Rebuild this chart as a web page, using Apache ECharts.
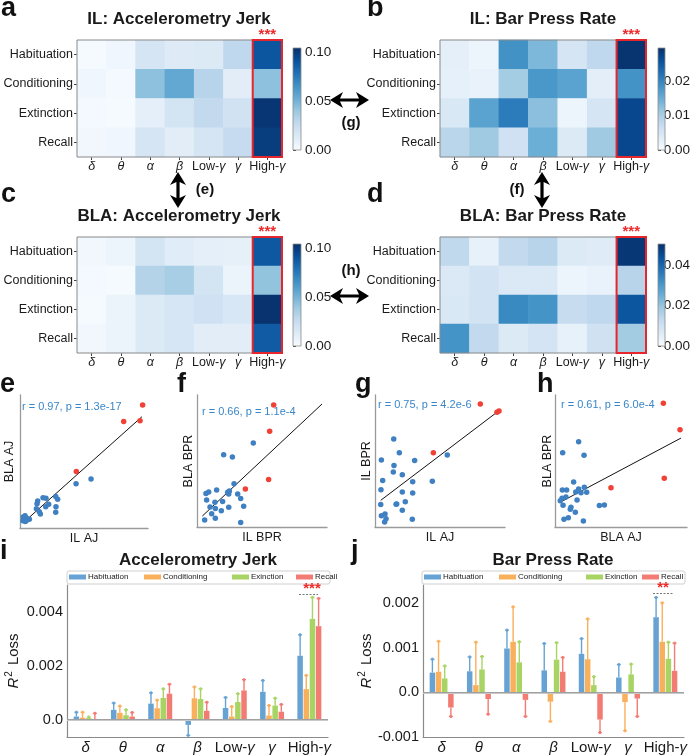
<!DOCTYPE html>
<html><head><meta charset="utf-8">
<script src="https://cdn.jsdelivr.net/npm/echarts@6/dist/echarts.min.js"></script>
<style>html,body{margin:0;padding:0;background:#fff}#c{width:690px;height:755px}</style>
</head><body><div id="c"></div>
<script>
// ---------------- DATA ----------------
const bands = ['δ','θ','α','β','Low-γ','γ','High-γ'];
const stages = ['Habituation','Conditioning','Extinction','Recall'];
const legendNames = ['Habituation','Conditioning','Exinction','Recall'];

// heatmaps (rows = stages, cols = bands)
const ilAJ = [
 [0.001,0.004,0.018,0.013,0.014,0.028,0.089],
 [0.004,0.002,0.043,0.055,0.031,0.011,0.043],
 [0.002,0.001,0.010,0.019,0.027,0.020,0.102],
 [0.003,0.004,0.018,0.011,0.018,0.026,0.099]];
const ilBPR = [
 [0.0027,0.0015,0.0185,0.0135,0.0050,0.0080,0.0292],
 [0.0025,0.0020,0.0105,0.0178,0.0163,0.0030,0.0184],
 [0.0045,0.0163,0.0210,0.0125,0.0015,0.0050,0.0270],
 [0.0085,0.0110,0.0060,0.0148,0.0040,0.0110,0.0270]];
const blaAJ = [
 [0.003,0.005,0.019,0.012,0.010,0.009,0.088],
 [0.002,0.001,0.032,0.036,0.019,0.006,0.042],
 [0.001,0.006,0.014,0.017,0.021,0.016,0.103],
 [0.003,0.006,0.014,0.017,0.011,0.011,0.087]];
const blaBPR = [
 [0.0134,0.0040,0.0130,0.0150,0.0068,0.0060,0.0490],
 [0.0070,0.0095,0.0070,0.0070,0.0025,0.0035,0.0150],
 [0.0075,0.0095,0.0330,0.0310,0.0120,0.0135,0.0430],
 [0.0310,0.0130,0.0068,0.0090,0.0040,0.0100,0.0180]];
const cbMax = [0.104, 0.0296, 0.104, 0.0503];
const cbTicks = [[0,0.05,0.10],[0,0.01,0.02],[0,0.05,0.10],[0,0.02,0.04]];
const heatTitles = ['IL: Accelerometry Jerk','IL: Bar Press Rate','BLA: Accelerometry Jerk','BLA: Bar Press Rate'];

// scatter (values relative to each panel's range, %)
const eBlue = [[55.5,36.8],[43.8,33.3],[27.9,23.6],[29.4,21.6],[18.0,22.8],[20.3,22.3],[13.8,20.3],[13.3,18.3],[22.4,17.8],[20.1,16.0],[12.8,14.5],[15.1,12.3],[15.9,10.5],[28.1,16.0],[27.9,11.8],[3.9,9.3],[4.9,7.8],[3.1,7.0],[5.5,6.0],[7.3,6.5],[2.6,8.3],[2.3,5.5],[4.2,4.8],[3.4,8.5]];
const eRed = [[95.8,92.5],[81.0,80.0],[93.8,80.7],[44.0,42.4]];
const eFit = [[2.6,4.0],[95.3,83.7]];
const fBlue = [[43.3,63.6],[20.5,54.8],[27.2,53.0],[28.5,32.8],[15.1,28.0],[9.0,26.5],[6.9,25.3],[24.9,27.3],[24.4,25.0],[31.3,25.0],[33.6,21.5],[19.7,19.4],[13.8,18.7],[7.4,20.5],[10.0,15.2],[14.1,14.1],[18.7,12.3],[24.4,14.9],[35.9,15.7],[11.3,10.0],[14.1,6.6],[5.9,5.3],[33.6,3.5],[23.6,26.3]];
const fRed = [[59.0,92.4],[55.9,72.5],[55.1,35.9],[37.2,28.8]];
const fFit = [[4.1,8.3],[96.2,93.2]];
const gBlue = [[14.4,66.7],[18.7,56.3],[4.9,50.8],[30.5,50.3],[55.6,54.5],[14.6,46.5],[14.1,41.7],[21.0,39.6],[5.9,35.2],[29.0,34.3],[44.1,34.6],[4.6,28.3],[21.0,26.5],[29.0,25.8],[23.3,19.2],[16.7,17.4],[4.4,17.0],[21.0,12.6],[4.9,8.6],[7.7,9.8],[8.5,6.3],[7.4,3.8],[28.7,5.8],[16.2,17.2]];
const gRed = [[81.0,93.2],[95.4,87.9],[93.8,86.9],[44.9,56.3]];
const gFit = [[4.4,20.2],[94.4,87.4]];
const hBlue = [[17.9,64.6],[5.8,56.3],[22.0,54.3],[14.1,34.1],[5.6,28.0],[8.8,28.0],[17.9,28.8],[22.2,30.1],[24.0,26.3],[15.7,26.5],[19.7,26.0],[8.3,22.7],[5.3,21.7],[4.0,19.9],[6.1,16.4],[16.7,20.5],[12.1,14.9],[11.6,13.4],[15.4,11.1],[33.6,16.2],[37.4,16.7],[10.1,7.1],[6.8,5.8],[21.5,4.5]];
const hRed = [[82.1,93.7],[94.7,73.7],[82.8,36.9],[42.4,29.8]];
const hFit = [[3.8,18.7],[95.5,67.4]];
const scatterStats = ['r = 0.97, p = 1.3e-17','r = 0.66, p = 1.1e-4','r = 0.75, p = 4.2e-6','r = 0.61, p = 6.0e-4'];
const scatterXNames = ['IL AJ','IL BPR','IL AJ','BLA AJ'];
const scatterYNames = ['BLA AJ','BLA BPR','IL BPR','BLA BPR'];

// bar charts: R2 loss per stage (values, error bar lengths)
const ajHab = [0.00011,0.00036,0.00059,-0.00020,0.00043,0.00103,0.00237];
const ajHabErr = [0.00016,0.00025,0.00040,0.00039,0.00039,0.00042,0.00078];
const ajCon = [0.00007,0.00025,0.00042,0.00079,0.00011,0.00015,0.00113];
const ajConErr = [0.00020,0.00025,0.00030,0.00042,0.00037,0.00037,0.00051];
const ajExt = [0.00005,0.00016,0.00080,0.00076,0.00065,0.00052,0.00374];
const ajExtErr = [0.00004,0.00020,0.00034,0.00038,0.00031,0.00027,0.00080];
const ajRec = [0.00001,0.00011,0.00096,0.00032,0.00108,0.00029,0.00347];
const ajRecErr = [0.00022,0.00015,0.00035,0.00032,0.00040,0.00027,0.00103];
const bpHab = [0.00044,0.00047,0.00098,0.00049,0.00086,0.00033,0.00168];
const bpHabErr = [0.00030,0.00032,0.00041,0.00060,0.00034,0.00029,0.00044];
const bpCon = [0.00046,0.00016,0.00113,-0.00021,0.00074,-0.00022,0.00113];
const bpConErr = [0.00068,0.00096,0.00078,0.00044,0.00090,0.00064,0.00087];
const bpExt = [0.00031,0.00051,0.00067,0.00073,0.00016,0.00040,0.00075];
const bpExtErr = [0.00028,0.00029,0.00046,0.00038,0.00019,0.00023,0.00037];
const bpRec = [-0.00034,-0.00015,-0.00017,0.00046,-0.00061,-0.00014,0.00048];
const bpRecErr = [0.00020,0.00034,0.00037,0.00032,0.00029,0.00040,0.00062];
const ajTicks = [0, 0.002, 0.004];
const bpTicks = [-0.001, 0, 0.001, 0.002];

// ---------------- STYLE / LAYOUT ----------------
const FF = '"Liberation Sans", Arial, sans-serif';
const BLUES = ['#f7fbff','#deebf7','#c6dbef','#9ecae1','#6baed6','#4292c6','#2171b5','#08519c','#08306b'];
const STAGE_COLORS = ['#66a3d4','#f9b05c','#a8d463','#f27c74'];
const DOT_BLUE = '#3f80c2', DOT_RED = '#ef4136';
const TXT = '#1a1a1a';

const heatBoxes = [[77,40,205,117],[440,40,206,117],[77,237,205,116],[440,237,206,116]];
const cbBoxes = [[293,48,8,102],[658,48,7,102],[293,244,8,102],[658,244,7,102]];
const scBoxes = [[20,395,128,133],[197,395,130,132],[375,395,130,132],[555,395,132,132]];
const scYGap = [4,2,2,1];
const barBoxes = [[67,585,261,153],[423,585,261,154]];

function greek(v){ return v.replace(/([δθαβγ])/g,'{g|$1}'); }

const option = {animation:false, textStyle:{fontFamily:FF}, grid:[], xAxis:[], yAxis:[], series:[], visualMap:[], legend:[], graphic:[]};
const G = option.graphic;
function addGrid(b){ option.grid.push({left:b[0], top:b[1], width:b[2], height:b[3], containLabel:false}); return option.grid.length-1; }
function text(str,x,y,font,fill,align,valign){ G.push({type:'text', x:x, y:y, z:100, silent:true, style:{text:str, font:font, fill:fill||TXT, align:align||'center', verticalAlign:valign||'middle'}}); }
function rect(x,y,w,h,stroke,lw){ G.push({type:'rect', z:100, silent:true, shape:{x:x,y:y,width:w,height:h}, style:{fill:'none', stroke:stroke, lineWidth:lw}}); }

// ---------------- HEATMAPS ----------------
const heatData = [ilAJ, ilBPR, blaAJ, blaBPR];
heatData.forEach((mat,k)=>{
  const g = addGrid(heatBoxes[k]);
  option.xAxis.push({type:'category', gridIndex:g, data:bands, axisLine:{show:false},
    axisTick:{show:true, alignWithLabel:true, length:3, lineStyle:{color:'#444'}},
    axisLabel:{interval:0, margin:3, fontSize:12.5, color:TXT, formatter:greek, rich:{g:{fontStyle:'italic', fontSize:12.5, color:TXT, fontFamily:FF}}},
    splitLine:{show:false}});
  option.yAxis.push({type:'category', gridIndex:g, data:stages, inverse:true, axisLine:{show:false},
    axisTick:{show:true, alignWithLabel:true, length:3, lineStyle:{color:'#444'}},
    axisLabel:{interval:0, margin:4, fontSize:12.5, color:TXT}, splitLine:{show:false}});
  const d = [];
  mat.forEach((row,r)=>row.forEach((v,c)=>d.push([c,r,v])));
  option.series.push({type:'heatmap', xAxisIndex:g, yAxisIndex:g, data:d, silent:true, emphasis:{disabled:true}});
  option.visualMap.push({type:'continuous', show:false, seriesIndex:option.series.length-1, dimension:2, min:0, max:cbMax[k], inRange:{color:BLUES}});
  const b = heatBoxes[k];
  rect(b[0], b[1], b[2], b[3], '#8a8a8a', 1);
  const cw = b[2]/7;
  rect(b[0]+6*cw, b[1], cw, b[3], '#e5262d', 2);
  text('***', b[0]+6.5*cw, b[1]-5, 'bold 15px '+FF, '#ef2b2b');
  text(heatTitles[k], k%2===0?179:543, k<2?19:216, 'bold 17px '+FF, TXT);
  // colorbar: value axis for ticks, gradient body
  const cb = cbBoxes[k];
  const g2 = addGrid(cb);
  option.xAxis.push({type:'value', gridIndex:g2, min:0, max:1, show:false});
  option.yAxis.push({type:'value', gridIndex:g2, min:0, max:cbMax[k], position:'right', axisLine:{show:false},
    axisTick:{show:true, length:3, customValues:cbTicks[k], lineStyle:{color:'#444'}},
    axisLabel:{customValues:cbTicks[k], formatter:v=>v.toFixed(2), fontSize:13.5, margin:4, color:TXT},
    splitLine:{show:false}});
  G.push({type:'rect', z:50, silent:true, shape:{x:cb[0], y:cb[1], width:cb[2], height:cb[3]},
    style:{fill:new echarts.graphic.LinearGradient(0,1,0,0, BLUES.map((c,i)=>({offset:i/(BLUES.length-1), color:c})))}});
  rect(cb[0], cb[1], cb[2], cb[3], '#8a8a8a', 0.8);
});

// ---------------- SCATTERS ----------------
const scBlue=[eBlue,fBlue,gBlue,hBlue], scRed=[eRed,fRed,gRed,hRed], scFit=[eFit,fFit,gFit,hFit];
scBoxes.forEach((b,k)=>{
  const g = addGrid(b);
  const ax = {type:'value', gridIndex:g, min:0, max:100, axisLine:{show:true, onZero:false, lineStyle:{color:'#9a9a9a', width:1.3}},
    axisTick:{show:false}, axisLabel:{show:false}, splitLine:{show:false}, nameLocation:'middle', nameTextStyle:{fontSize:12.5, color:TXT, fontFamily:FF}};
  option.xAxis.push(Object.assign({}, ax, {name:scatterXNames[k], nameGap:4}));
  option.yAxis.push(Object.assign({}, ax, {name:scatterYNames[k], nameGap:scYGap[k]}));
  option.series.push({type:'line', xAxisIndex:g, yAxisIndex:g, data:scFit[k], symbol:'none', silent:true, lineStyle:{color:'#111', width:1}, z:3});
  option.series.push({type:'scatter', xAxisIndex:g, yAxisIndex:g, data:scBlue[k], symbolSize:5.5, silent:true, itemStyle:{color:DOT_BLUE, opacity:1}, z:4});
  option.series.push({type:'scatter', xAxisIndex:g, yAxisIndex:g, data:scRed[k], symbolSize:5.5, silent:true, itemStyle:{color:DOT_RED, opacity:1}, z:4});
});
text(scatterStats[0], 22, 407, '11px '+FF, '#3a86c8', 'left');
text(scatterStats[1], 202, 412, '11px '+FF, '#3a86c8', 'left');
text(scatterStats[2], 378, 405, '11px '+FF, '#3a86c8', 'left');
text(scatterStats[3], 561, 405, '11px '+FF, '#3a86c8', 'left');

// ---------------- BAR CHARTS ----------------
const barSets = [
  {vals:[ajHab,ajCon,ajExt,ajRec], errs:[ajHabErr,ajConErr,ajExtErr,ajRecErr], min:-0.00065, max:0.005, ticks:ajTicks, lines:[0.002,0.004], nameGap:44},
  {vals:[bpHab,bpCon,bpExt,bpRec], errs:[bpHabErr,bpConErr,bpExtErr,bpRecErr], min:-0.001, max:0.0024, ticks:bpTicks, lines:[0.001,0.002], nameGap:46}
];
const BW = 5.5, BGAP = 0.12;
barSets.forEach((s,bi)=>{
  const g = addGrid(barBoxes[bi]);
  option.xAxis.push({type:'category', gridIndex:g, data:bands,
    axisLine:{show:true, onZero:false, lineStyle:{color:'#8a8a8a', width:1.2}}, axisTick:{show:false},
    axisLabel:{interval:0, margin:3, fontSize:15, color:TXT, formatter:greek, rich:{g:{fontStyle:'italic', fontSize:15, color:TXT, fontFamily:FF}}},
    splitLine:{show:false}});
  option.yAxis.push({type:'value', gridIndex:g, min:s.min, max:s.max,
    axisLine:{show:true, lineStyle:{color:'#8a8a8a', width:1.2}}, axisTick:{show:false, customValues:s.ticks},
    axisLabel:{customValues:s.ticks, margin:4, fontSize:14.5, color:TXT, formatter:v=>Math.abs(v)<1e-12?'0.0':v.toFixed(3)},
    splitLine:{show:false},
    name:'{it|R}{s|2} Loss', nameLocation:'middle', nameGap:s.nameGap,
    nameTextStyle:{fontSize:15, color:TXT, fontFamily:FF, rich:{it:{fontStyle:'italic', fontSize:15, color:TXT, fontFamily:FF}, s:{fontSize:10, color:TXT, fontFamily:FF, padding:[0,2,9,1]}}}});
  // grid lines
  option.series.push({type:'line', xAxisIndex:g, yAxisIndex:g, data:[], z:1, silent:true,
    markLine:{silent:true, symbol:'none', label:{show:false}, animation:false,
      data:[{yAxis:0, lineStyle:{color:'#c8c8c8', width:1.8, type:'solid'}}].concat(s.lines.map(v=>({yAxis:v, lineStyle:{color:'#a0a0a0', width:1, type:'solid'}})))}});
  s.vals.forEach((vals,k)=>{
    option.series.push({type:'bar', name:legendNames[k], xAxisIndex:g, yAxisIndex:g, data:vals, barWidth:BW, barGap:(BGAP*100)+'%', z:3, silent:true,
      itemStyle:{color:STAGE_COLORS[k]}});
  });
  s.vals.forEach((vals,k)=>{
    const off = (k-1.5)*BW*(1+BGAP);
    option.series.push({type:'custom', xAxisIndex:g, yAxisIndex:g, z:4, silent:true,
      data: vals.map((v,i)=>[i, v, s.errs[k][i]]),
      encode:{x:0, y:1},
      renderItem:function(params, api){
        const i = api.value(0), v = api.value(1), e = api.value(2);
        const sign = v < 0 ? -1 : 1;
        const p0 = api.coord([i, v]), p1 = api.coord([i, v + sign*e]);
        const x = p0[0] + off;
        const st = {stroke:STAGE_COLORS[k], lineWidth:1.4};
        return {type:'group', children:[
          {type:'line', shape:{x1:x, y1:p0[1], x2:x, y2:p1[1]}, style:st},
          {type:'line', shape:{x1:x-2, y1:p1[1], x2:x+2, y2:p1[1]}, style:st},
          {type:'line', shape:{x1:x, y1:p1[1]-1.5, x2:x, y2:p1[1]+1.5}, style:{stroke:STAGE_COLORS[k], lineWidth:2}}
        ]};
      }});
  });
});
// legends
const legLeft = [[69,144,232,296],[424,499,586,642]];
legLeft.forEach((arr,bi)=>{
  arr.forEach((x,k)=>{
    option.legend.push({left:x, top:573, padding:0, itemWidth:17, itemHeight:5, icon:'rect', selectedMode:false, z:20,
      data:[legendNames[k]], textStyle:{fontSize:8, color:TXT, fontFamily:FF, padding:[0,0,0,-3]}});
  });
});
G.push({type:'rect', z:1, silent:true, shape:{x:67, y:571, width:263, height:13, r:2}, style:{fill:'none', stroke:'#cfcfcf', lineWidth:1}});
G.push({type:'rect', z:1, silent:true, shape:{x:422, y:571, width:263, height:13, r:2}, style:{fill:'none', stroke:'#cfcfcf', lineWidth:1}});
// bar titles and significance
text('Accelerometry Jerk', 198, 560, 'bold 17px '+FF, TXT);
text('Bar Press Rate', 553, 560, 'bold 17px '+FF, TXT);
text('***', 312, 589, 'bold 15px '+FF, '#ef2b2b');
G.push({type:'line', z:100, silent:true, shape:{x1:299, y1:594.5, x2:318, y2:594.5}, style:{stroke:'#777', lineWidth:1, lineDash:[2,1.5]}});
text('**', 663, 588, 'bold 15px '+FF, '#ef2b2b');
G.push({type:'line', z:100, silent:true, shape:{x1:653, y1:593.5, x2:673, y2:593.5}, style:{stroke:'#777', lineWidth:1, lineDash:[2,1.5]}});

// ---------------- PANEL LETTERS ----------------
const LF = 'bold 27px '+FF;
[['a',1,22],['b',367,22],['c',1,208],['d',367,208],['e',0,398],['f',177,398],['g',355,398],['h',537,398],['i',0,565],['j',351,565]]
  .forEach(t=>text(t[0], t[1], t[2], LF, '#111', 'left', 'bottom'));

// ---------------- ARROWS ----------------
function vArrow(cx,y1,y2){ const W=8,L=13,s=1.6,n=3;
  G.push({type:'polygon', z:100, silent:true, shape:{points:[[cx,y1],[cx+W,y1+L],[cx+s,y1+L-n],[cx+s,y2-L+n],[cx+W,y2-L],[cx,y2],[cx-W,y2-L],[cx-s,y2-L+n],[cx-s,y1+L-n],[cx-W,y1+L]]}, style:{fill:'#000'}}); }
function hArrow(cy,x1,x2){ const W=8,L=13,s=1.6,n=3;
  G.push({type:'polygon', z:100, silent:true, shape:{points:[[x1,cy],[x1+L,cy-W],[x1+L-n,cy-s],[x2-L+n,cy-s],[x2-L,cy-W],[x2,cy],[x2-L,cy+W],[x2-L+n,cy+s],[x1+L-n,cy+s],[x1+L,cy+W]]}, style:{fill:'#000'}}); }
vArrow(178,172,208); text('(e)',205,190,'bold 15px '+FF,'#111');
vArrow(542,172,208); text('(f)',517,190,'bold 15px '+FF,'#111');
hArrow(100,330,369); text('(g)',351,123,'bold 15px '+FF,'#111');
hArrow(296,330,369); text('(h)',351,271,'bold 15px '+FF,'#111');

const chart = echarts.init(document.getElementById('c'), null, {renderer:'canvas'});
chart.setOption(option);
</script></body></html>
